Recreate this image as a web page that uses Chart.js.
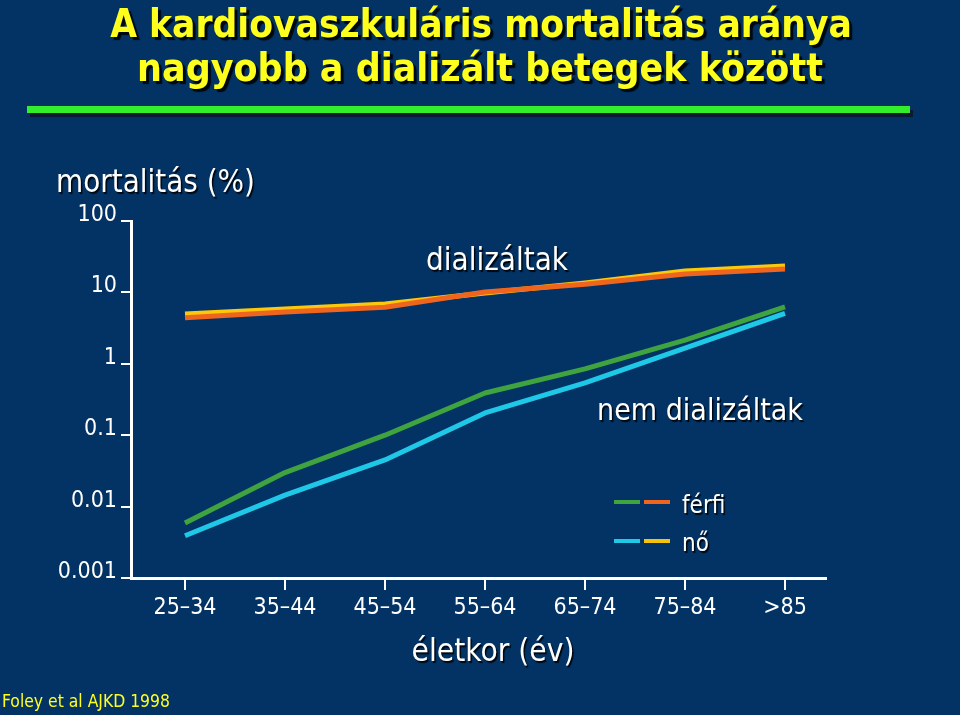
<!DOCTYPE html>
<html>
<head>
<meta charset="utf-8">
<script src="https://cdn.jsdelivr.net/npm/chart.js@4/dist/chart.umd.min.js"></script>
<style>
html,body{margin:0;padding:0;background:#033264;}
canvas{display:block;}
</style>
</head>
<body>
<canvas id="c" width="960" height="715"></canvas>
<script>
const categories = ['25–34','35–44','45–54','55–64','65–74','75–84','>85'];
const dialMale   = [4.4, 5.3, 6.2, 10.1, 13.0, 18.1, 21.3];
const dialFemale = [5.0, 5.85, 6.9, 9.8, 13.5, 19.9, 23.4];
const genMale    = [0.0059, 0.030, 0.10, 0.39, 0.85, 2.15, 6.25];
const genFemale  = [0.0039, 0.0145, 0.045, 0.205, 0.54, 1.66, 5.1];
const yTicks = [0.001, 0.01, 0.1, 1, 10, 100];
const yTickLabels = ['0.001','0.01','0.1','1','10','100'];

const BG = '#033264';
const FONT = '"DejaVu Sans Condensed", "DejaVu Sans", sans-serif';

function pts(arr){ return arr.map((v,i)=>({x:i, y:v})); }

function fitFont(ctx, text, family, weight, target){
  ctx.font = weight + ' 100px ' + family;
  const w = ctx.measureText(text).width;
  return weight + ' ' + (100*target/w).toFixed(2) + 'px ' + family;
}

function drawText(ctx, text, x, y, font, color, align, shadow){
  ctx.save();
  ctx.font = font;
  ctx.fillStyle = color;
  ctx.textAlign = align || 'left';
  ctx.textBaseline = 'alphabetic';
  if (shadow){
    ctx.shadowColor = 'rgba(0,0,0,0.85)';
    ctx.shadowOffsetX = shadow; ctx.shadowOffsetY = shadow; ctx.shadowBlur = 1;
  }
  ctx.fillText(text, x, y);
  ctx.restore();
}

const deco = {
  id: 'deco',
  beforeDraw(chart){
    const ctx = chart.ctx;
    ctx.save();
    ctx.fillStyle = BG;
    ctx.fillRect(0,0,chart.width,chart.height);
    ctx.restore();
  },
  afterDraw(chart){
    const ctx = chart.ctx;
    // Title
    const t1 = 'A kardiovaszkuláris mortalitás aránya';
    const t2 = 'nagyobb a dializált betegek között';
    const fam = '"DejaVu Sans Condensed", "DejaVu Sans", sans-serif';
    drawText(ctx, t1, 481, 37, fitFont(ctx, t1, fam, 'bold', 742), '#ffff1e', 'center', 3);
    drawText(ctx, t2, 480, 81, fitFont(ctx, t2, fam, 'bold', 686), '#ffff1e', 'center', 3);
    // green rule
    ctx.save();
    ctx.fillStyle = '#0a1a30';
    ctx.fillRect(30, 110, 883, 7);
    ctx.fillStyle = '#33ee2a';
    ctx.fillRect(27, 106, 883, 7);
    ctx.restore();
    // y title
    const yt = 'mortalitás (%)';
    drawText(ctx, yt, 56, 192, fitFont(ctx, yt, FONT, 'normal', 199), '#ffffff', 'left', 1.5);
    // series labels
    const d1 = 'dializáltak';
    drawText(ctx, d1, 497, 270, fitFont(ctx, d1, FONT, 'normal', 142), '#ffffff', 'center', 1.5);
    const d2 = 'nem dializáltak';
    drawText(ctx, d2, 597, 420, fitFont(ctx, d2, FONT, 'normal', 206), '#ffffff', 'left', 1.5);
    // legend
    const legend = [
      {y: 502, c1: '#3fa33f', c2: '#f0651e', label: 'férfi', ty: 513},
      {y: 541, c1: '#1ec8e6', c2: '#f5c40a', label: 'nő', ty: 551}
    ];
    legend.forEach(l=>{
      ctx.save();
      ctx.lineWidth = 4;
      ctx.strokeStyle = l.c1;
      ctx.beginPath(); ctx.moveTo(614, l.y); ctx.lineTo(640, l.y); ctx.stroke();
      ctx.strokeStyle = l.c2;
      ctx.beginPath(); ctx.moveTo(644, l.y); ctx.lineTo(670, l.y); ctx.stroke();
      ctx.restore();
      drawText(ctx, l.label, 682, l.ty, 'normal 24px ' + FONT, '#ffffff', 'left', 1.5);
    });
    // x title
    const xt = 'életkor (év)';
    drawText(ctx, xt, 493, 661, fitFont(ctx, xt, FONT, 'normal', 163), '#ffffff', 'center', 1.5);
    // source
    const src = 'Foley et al AJKD 1998';
    drawText(ctx, src, 2, 707, fitFont(ctx, src, FONT, 'normal', 168), '#ffff1e', 'left', 0);
  }
};

const ctx = document.getElementById('c').getContext('2d');
new Chart(ctx, {
  type: 'line',
  data: {
    datasets: [
      {label:'férfi, dializáltak', data: pts(dialMale), borderColor:'#f0651e', borderWidth:5},
      {label:'nő, dializáltak', data: pts(dialFemale), borderColor:'#fbc80c', borderWidth:5},
      {label:'férfi, nem dializáltak', data: pts(genMale), borderColor:'#3fa33f', borderWidth:5},
      {label:'nő, nem dializáltak', data: pts(genFemale), borderColor:'#1ec8e6', borderWidth:5}
    ]
  },
  options: {
    responsive: false,
    animation: false,
    layout: { padding: { left: 0, right: 134, top: 221, bottom: 87 } },
    elements: { point: { radius: 0, hoverRadius: 0 }, line: { tension: 0, borderCapStyle: 'butt', borderJoinStyle: 'round' } },
    plugins: { legend: { display: false }, title: { display: false }, tooltip: { enabled: false } },
    scales: {
      x: {
        type: 'linear',
        min: -0.54, max: 6.41,
        afterBuildTicks(scale){ scale.ticks = categories.map((c,i)=>({value:i})); },
        afterFit(scale){ scale.height = 50; },
        ticks: {
          color: '#ffffff',
          font: { family: 'DejaVu Sans Condensed', size: 23 },
          padding: 4,
          autoSkip: false,
          maxRotation: 0,
          callback: (v)=> categories[v]
        },
        grid: { drawOnChartArea: false, color: '#ffffff', lineWidth: 2, tickLength: 12 },
        border: { color: '#ffffff', width: 3 }
      },
      y: {
        type: 'logarithmic',
        min: 0.001, max: 100,
        afterBuildTicks(scale){ scale.ticks = yTicks.map(v=>({value:v})); },
        afterFit(scale){ scale.width = 131; },
        ticks: {
          color: '#ffffff',
          font: { family: 'DejaVu Sans Condensed', size: 23 },
          padding: 4,
          labelOffset: -6,
          autoSkip: false,
          callback: (v)=> { const i = yTicks.indexOf(v); return i >= 0 ? yTickLabels[i] : ''; }
        },
        grid: { drawOnChartArea: false, color: '#ffffff', lineWidth: 2, tickLength: 10 },
        border: { color: '#ffffff', width: 3 }
      }
    }
  },
  plugins: [deco]
});
</script>
</body>
</html>
